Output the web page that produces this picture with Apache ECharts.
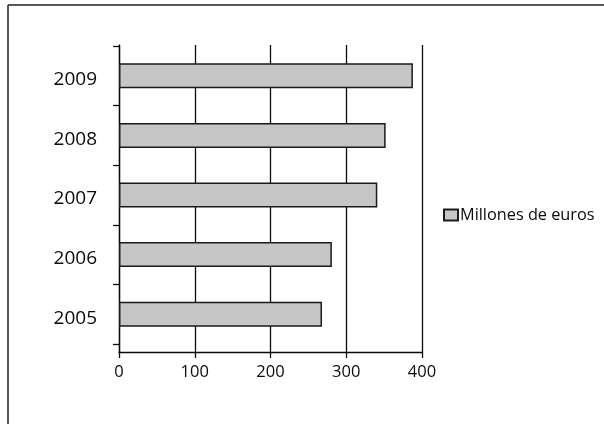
<!DOCTYPE html>
<html>
<head>
<meta charset="utf-8">
<script src="https://cdn.jsdelivr.net/npm/echarts@6/dist/echarts.min.js"></script>
<style>html,body{margin:0;padding:0;background:#fff;}#c{width:604px;height:424px;}</style>
</head>
<body>
<div id="c"></div>
<script>
const categories = ['2005', '2006', '2007', '2008', '2009'];
const values = [268, 281, 341, 352, 388];
const seriesName = 'Millones de euros';
const xTicks = [0, 100, 200, 300, 400];

const chart = echarts.init(document.getElementById('c'), null, {renderer: 'canvas'});
const FONT = '"Open Sans", sans-serif';
const INK = '#0a0a0a';
chart.setOption({
  animation: false,
  backgroundColor: '#ffffff',
  textStyle: {fontFamily: FONT},
  graphic: [
    {type: 'line', shape: {x1: 8, y1: 5, x2: 604, y2: 5}, style: {stroke: '#222', lineWidth: 1.5}},
    {type: 'line', shape: {x1: 8, y1: 5, x2: 8, y2: 424}, style: {stroke: '#222', lineWidth: 1.5}}
  ],
  legend: {
    left: 438, top: 202, orient: 'vertical',
    itemWidth: 14, itemHeight: 11, itemGap: 4,
    textStyle: {fontFamily: FONT, fontSize: 16.3, color: INK, padding: [0, 0, 0, -3]},
    data: [{name: seriesName, icon: 'rect'}]
  },
  grid: [
    {left: 119, right: 182, top: 46, height: 298, containLabel: false},
    {left: 119, right: 182, top: 45, bottom: 72, containLabel: false}
  ],
  xAxis: [
    {
      gridIndex: 0, type: 'value', min: xTicks[0], max: xTicks[xTicks.length - 1], interval: 100,
      show: false
    },
    {
      gridIndex: 1, type: 'value', min: xTicks[0], max: xTicks[xTicks.length - 1], interval: 100,
      axisLine: {show: true, lineStyle: {color: INK, width: 1.3}},
      axisTick: {show: true, length: 6, lineStyle: {color: INK, width: 1.3}},
      axisLabel: {fontFamily: FONT, fontSize: 16.5, color: INK, margin: 12},
      splitLine: {show: true, lineStyle: {color: INK, width: 1.3}}
    }
  ],
  yAxis: [
    {
      gridIndex: 0, type: 'category', data: categories,
      axisLine: {show: false},
      axisTick: {show: true, length: 6, lineStyle: {color: INK, width: 1.3}},
      axisLabel: {fontFamily: FONT, fontSize: 19, color: INK, margin: 22, verticalAlign: 'top', lineHeight: 8},
      splitLine: {show: false}
    },
    {
      gridIndex: 1, type: 'value', min: 0, max: 1,
      axisLine: {show: true, lineStyle: {color: INK, width: 1.3}},
      axisTick: {show: false}, axisLabel: {show: false}, splitLine: {show: false}
    }
  ],
  series: [{
    name: seriesName, type: 'bar', data: values, barWidth: 25,
    xAxisIndex: 0, yAxisIndex: 0,
    itemStyle: {color: '#c6c6c6', borderColor: '#1a1a1a', borderWidth: 1.5},
    emphasis: {disabled: true}
  }]
});
</script>
</body>
</html>
